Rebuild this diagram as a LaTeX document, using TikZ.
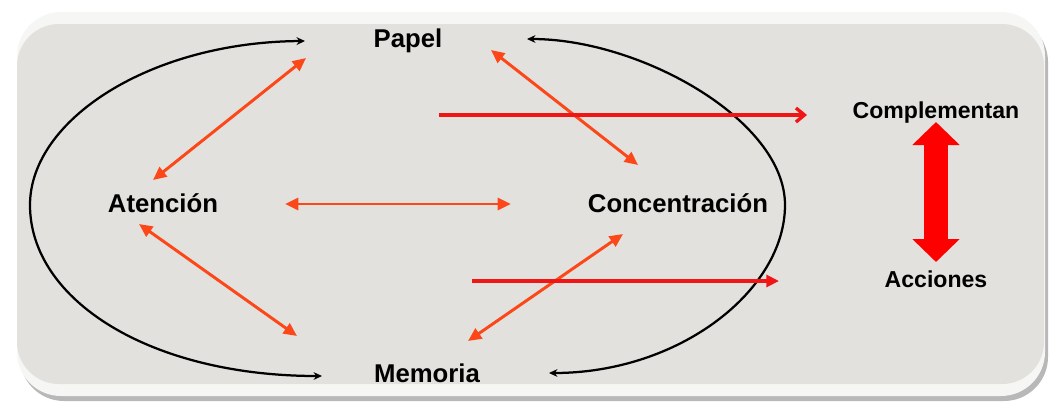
\documentclass[tikz,border=0pt]{standalone}
\usepackage{fontspec}
\setmainfont{Liberation Sans}
\usetikzlibrary{arrows.meta}
\definecolor{fondo}{RGB}{226,225,222}
\definecolor{bisel}{RGB}{246,246,244}
\definecolor{naranja}{RGB}{252,72,24}
\definecolor{rojo}{RGB}{240,22,22}

\begin{document}
\begin{tikzpicture}[x=0.025cm,y=-0.025cm,
	etiqueta/.style={font=\bfseries\fontsize{18.3}{20}\selectfont,anchor=base,inner sep=0pt},
	etiquetab/.style={font=\bfseries\fontsize{16.4}{18}\selectfont,anchor=base,inner sep=0pt},
	curva/.style={line width=1.6pt,{Stealth[length=6pt,width=5.5pt]}-{Stealth[length=6pt,width=5.5pt]}},
	enlace/.style={naranja,line width=2.1pt,{Triangle[length=9.5pt,width=8.5pt]}-{Triangle[length=9.5pt,width=8.5pt]}},
	flecha/.style={rojo,line width=2.6pt},
	gruesa/.style={red,line width=0.6cm,{Triangle[length=0.575cm,width=1.15cm]}-{Triangle[length=0.575cm,width=1.15cm]}}]

\useasboundingbox (0,0) rectangle (1052,404);

%%%%%%%%%%%%%%%%%%%%%%%%%%%%%%%%%%%%%%

\fill[black!28,rounded corners=1.1cm] (20,18) rectangle (1048,401);
\fill[bisel,rounded corners=1.1cm] (17,12) rectangle (1045,396);
\fill[fondo,rounded corners=1.05cm] (17,24) rectangle (1044,384);

%%%%%%%%%%%%%%%%%%%%%%%%%%%%%%%%%%%%%%

\node[etiqueta] (papel) at (408,47) {Papel};
\node[etiqueta] (atencion) at (163,212) {Atención};
\node[etiqueta] (concentracion) at (678,212) {Concentración};
\node[etiqueta] (memoria) at (427,382) {Memoria};
\node[etiquetab] (complementan) at (936,118) {Complementan};
\node[etiquetab] (acciones) at (936,287) {Acciones};

%%%%%%%%%%%%%%%%%%%%%%%%%%%%%%%%%%%%%%

\coordinate (pizq) at (305,41);
\coordinate (mizq) at (322,376);
\coordinate (pder) at (527,39);
\coordinate (mder) at (549,373);

\draw[curva] (pizq) .. controls (150,42) and (30,120) .. (30,205)
	.. controls (30,300) and (150,376) .. (mizq);
\draw[curva] (pder) .. controls (640,39) and (785,120) .. (785,205)
	.. controls (785,290) and (680,373) .. (mder);

%%%%%%%%%%%%%%%%%%%%%%%%%%%%%%%%%%%%%%

\coordinate (ap-a) at (153,180);
\coordinate (ap-p) at (306,58);
\coordinate (pc-p) at (491,50);
\coordinate (pc-c) at (638,165);
\coordinate (am-a) at (139,224);
\coordinate (am-m) at (297,336);
\coordinate (mc-m) at (468,341);
\coordinate (mc-c) at (623,234);
\coordinate (ac-a) at (285,204);
\coordinate (ac-c) at (511,204);

\draw[enlace] (ap-a) -- (ap-p);
\draw[enlace] (pc-p) -- (pc-c);
\draw[enlace] (am-a) -- (am-m);
\draw[enlace] (mc-m) -- (mc-c);
\draw[enlace] (ac-a) -- (ac-c);

%%%%%%%%%%%%%%%%%%%%%%%%%%%%%%%%%%%%%%

\coordinate (r1-a) at (439,115);
\coordinate (r1-b) at (807,115);
\coordinate (r2-a) at (472,281);
\coordinate (r2-b) at (779,281);

\draw[flecha,-{Straight Barb[length=6pt,width=10pt,line width=2.4pt]}] (r1-a) -- (r1-b);
\draw[flecha,-{Triangle[length=9pt,width=8.5pt]}] (r2-a) -- (r2-b);

\coordinate (fa) at (936,122);
\coordinate (fb) at (936,262);
\draw[gruesa] (fa) -- (fb);

\end{tikzpicture}
\end{document}
